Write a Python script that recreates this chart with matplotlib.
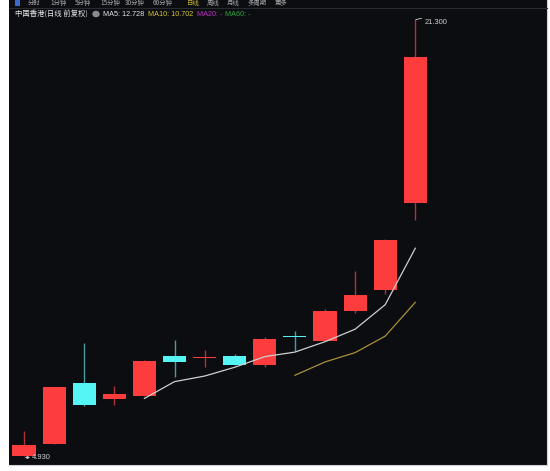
import numpy as np
import matplotlib
matplotlib.use("Agg")
import matplotlib.pyplot as plt

# daily bars
opens = [4.93, 5.38, 7.68, 7.07, 7.19, 8.69, 8.59, 8.68, 8.35, 9.45, 9.26, 10.37, 11.16, 14.42]
closes = [5.34, 7.51, 6.85, 7.26, 8.50, 8.45, 8.63, 8.35, 9.32, 9.41, 10.36, 10.96, 13.04, 19.90]
highs = [5.88, 7.53, 9.18, 7.56, 8.54, 9.28, 8.91, 8.76, 9.41, 9.63, 10.46, 11.87, 13.08, 21.30]
lows = [4.93, 5.38, 6.81, 6.83, 7.17, 7.91, 8.26, 8.33, 8.28, 8.88, 9.24, 10.29, 11.01, 13.79]

# moving averages as drawn (MA5 from bar 5, MA10 from bar 10)
ma5 = [7.09, 7.72, 7.93, 8.26, 8.66, 8.83, 9.22, 9.69, 10.61, 12.73]
ma10 = [7.96, 8.46, 8.81, 9.43, 10.70]

toolbar = ["分时", "1分钟", "5分钟", "15分钟", "30分钟", "60分钟", "日线", "周线", "月线", "多周期", "更多"]
title = "中国香港(日线 前复权)"

W, H = 550, 471
BG = "#0b0d11"
RED = "#fd3d3d"
CYAN = "#55f5f5"

fig = plt.figure(figsize=(W / 100, H / 100), dpi=100)
fig.patch.set_facecolor("white")

# dark panel in pixel terms
left, right, top, bottom = 9, 547, 0, 465
ax = fig.add_axes([left / W, (H - bottom) / H, (right - left) / W, (bottom - top) / H])
ax.set_facecolor(BG)
for s in ax.spines.values():
    s.set_visible(False)
ax.spines["bottom"].set_visible(True)
ax.spines["bottom"].set_color("#cfd2d6")
ax.spines["right"].set_visible(True)
ax.spines["right"].set_color("#cfd2d6")
ax.set_xticks([])
ax.set_yticks([])

# x index -> pixel: 24 + 30.1*i ; price -> pixel: 20 + (21.3 - p)/0.03755
step = 30.1
x0 = 24
ax.set_xlim((left - x0) / step, (right - x0) / step)
pp = 0.03755
ax.set_ylim(21.3 - (bottom - 20) * pp, 21.3 + 20 * pp)

x = np.arange(len(opens))
o = np.array(opens)
c = np.array(closes)
up = c >= o
body_col = np.where(up, RED, CYAN)
wick_col = np.where(up, "#b03434", "#4a9c9c")
h = np.maximum(np.abs(c - o), 0.04)
ax.vlines(x, lows, highs, colors=wick_col, lw=1.0, zorder=2)
ax.bar(x, h, bottom=np.minimum(o, c), width=0.77, color=body_col, zorder=3, linewidth=0)

ax.plot(x[4:], ma5, color="#cfcfcf", lw=0.9, zorder=4)
ax.plot(x[9:], ma10, color="#a8903a", lw=0.9, zorder=4)

# high / low markers
ax.annotate("21.300", xy=(13, 21.3), xytext=(13.3, 21.3 - 3 * pp), color="#d0d0d0",
            fontsize=5.4, family="Liberation Sans", va="center", ha="left",
            arrowprops=dict(arrowstyle="-", color="#d0d0d0", lw=0.6,
                            connectionstyle="arc3,rad=0.3", shrinkA=0, shrinkB=0))
ax.annotate("4.930", xy=(0.03, 4.93 - 1.5 * pp), xytext=(0.27, 4.93 - 1.5 * pp), color="#d0d0d0",
            fontsize=5.4, family="Liberation Sans", va="center", ha="left",
            arrowprops=dict(arrowstyle="-|>", color="#d0d0d0", lw=0.6,
                            mutation_scale=4, shrinkA=0, shrinkB=0))


def px(xp, yp):
    return xp / W, 1 - yp / H


# toolbar along the top edge
tool_x = [28, 50, 75, 100, 125, 153, 187, 207, 227, 248, 275]
for t, xp in zip(toolbar, tool_x):
    col = "#cdb83a" if t == "日线" else "#a8a8a8"
    fig.text(*px(xp, 3.4), t, color=col, fontsize=4.6, family=["Noto Sans CJK SC", "DejaVu Sans"],
             va="center", ha="left")
fig.add_artist(plt.Line2D([left / W, right / W], [1 - 7.5 / H] * 2, color="#262a31", lw=0.8))
fig.add_artist(plt.Rectangle((15 / W, 1 - 6 / H), 5 / W, 6 / H, color="#3a6ad0", lw=0))

# header
fig.text(*px(15, 14), title, color="#e6e6e6", fontsize=5.3,
         family=["Noto Sans CJK SC", "DejaVu Sans"], va="center", ha="left")
fig.add_artist(plt.Circle(px(96, 14), 3.0 / W, color="#8a8a8a", transform=fig.transFigure))
items = [(103, "MA5: 12.728", "#e6e6e6"), (148, "MA10: 10.702", "#d8c23a"),
         (197, "MA20: -", "#c030c8"), (225, "MA60: -", "#2fa83a")]
for xp, t, col in items:
    fig.text(*px(xp, 14), t, color=col, fontsize=5.2, family="Liberation Sans",
             va="center", ha="left")

fig.savefig("out.png", dpi=100, facecolor=fig.get_facecolor())
